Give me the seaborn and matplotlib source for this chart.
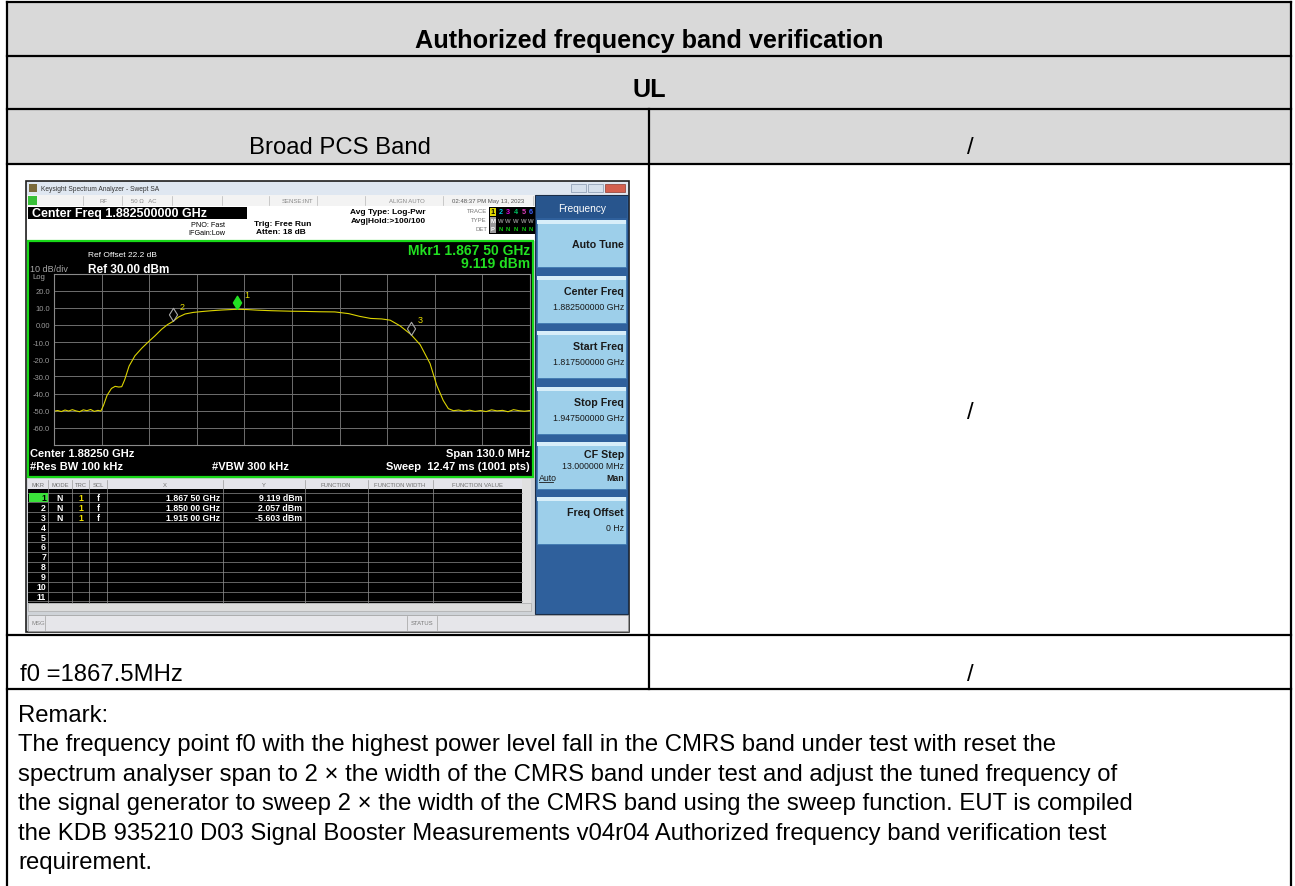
import matplotlib
matplotlib.use("Agg")
import matplotlib.pyplot as plt
from matplotlib.patches import Rectangle
import numpy as np
import pandas as pd
import seaborn as sns

# ---- text of the report table ----
title = "Authorized frequency band verification"
direction = "UL"
band_name = "Broad PCS Band"
f0_text = "f0 =1867.5MHz"
remark_lines = [
    "Remark:",
    "The frequency point f0 with the highest power level fall in the CMRS band under test with reset the",
    "spectrum analyser span to 2 \u00d7 the width of the CMRS band under test and adjust the tuned frequency of",
    "the signal generator to sweep 2 \u00d7 the width of the CMRS band using the sweep function. EUT is compiled",
    "the KDB 935210 D03 Signal Booster Measurements v04r04 Authorized frequency band verification test",
    "requirement.",
]

# ---- trace (GHz / dBm) ----
trace_freq = [1.8175, 1.8185, 1.8195, 1.8205, 1.8215, 1.8225, 1.8235, 1.8245, 1.8255, 1.8265,
              1.8275, 1.8285, 1.8295, 1.8303, 1.8310, 1.8320, 1.8332, 1.8342, 1.8352, 1.8360,
              1.8368, 1.8380, 1.8396, 1.8415, 1.8433, 1.8450, 1.8469, 1.8485, 1.8500, 1.8515,
              1.8533, 1.8555, 1.8578, 1.8605, 1.8633, 1.8660, 1.8675, 1.8700, 1.8733, 1.8770,
              1.8824, 1.8860, 1.8900, 1.8942, 1.8980, 1.9010, 1.9040, 1.9070, 1.9093, 1.9120,
              1.9150, 1.9175, 1.9202, 1.9220, 1.9238, 1.9252, 1.9266, 1.9280, 1.9295, 1.9310,
              1.9325, 1.9340, 1.9355, 1.9370, 1.9385, 1.9400, 1.9415, 1.9430, 1.9445, 1.9460,
              1.9475]
trace_dbm = [-50.3, -49.9, -50.5, -49.6, -50.2, -49.4, -50.1, -50.6, -49.5, -50.0,
             -49.3, -50.4, -49.8, -50.2, -47.0, -41.0, -37.0, -35.8, -36.2, -36.0,
             -32.0, -24.0, -18.0, -13.5, -9.8, -6.5, -2.5, 0.2, 2.057, 4.6,
             6.4, 7.3, 7.8, 8.3, 8.7, 9.0, 9.119, 9.0, 8.6, 8.3,
             8.0, 7.9, 7.7, 7.6, 6.6, 5.0, 3.8, 3.5, 2.8, -0.5,
             -5.603, -11.5, -22.5, -35.0, -44.0, -48.8, -50.0, -49.6, -50.3, -49.7,
             -50.4, -49.9, -50.5, -49.5, -50.1, -49.8, -50.6, -49.4, -50.0, -50.3,
             -49.9]

mkr_no = ["1", "2", "3"]
mkr_freq = [1.8675, 1.8500, 1.9150]
mkr_dbm = [9.119, 2.057, -5.603]
mkr_x_text = ["1.867 50 GHz", "1.850 00 GHz", "1.915 00 GHz"]
mkr_y_text = ["9.119 dBm", "2.057 dBm", "-5.603 dBm"]

ytick_vals = [-70, -60, -50, -40, -30, -20, -10, 0, 10, 20, 30]
ytick_labels = ["", "-60.0", "-50.0", "-40.0", "-30.0", "-20.0", "-10.0", "0.00", "10.0", "20.0", ""]

softkey_titles = ["Auto Tune", "Center Freq", "Start Freq", "Stop Freq", "CF Step", "Freq Offset"]
softkey_values = ["", "1.882500000 GHz", "1.817500000 GHz", "1.947500000 GHz", "13.000000 MHz", "0 Hz"]

sns.set_theme(style="white")
plt.rcParams["font.family"] = ["Liberation Sans", "DejaVu Sans"]

W, H = 1295, 887
fig = plt.figure(figsize=(W / 100, H / 100), dpi=100)
pg = fig.add_axes([0, 0, 1, 1])
pg.set_xlim(0, W)
pg.set_ylim(H, 0)
pg.axis("off")


def box(x, y, w, h, fc, ec="none", lw=0, z=1):
    pg.add_patch(Rectangle((x, y), w, h, facecolor=fc, edgecolor=ec, linewidth=lw, zorder=z))


def txt(x, y, s, size, color="black", ha="left", weight="normal", z=5):
    pg.text(x, y, s, fontsize=size, color=color, ha=ha, va="center", fontweight=weight, zorder=z)


def line(xs, ys, color="black", lw=1.6, z=4):
    pg.plot(xs, ys, color=color, lw=lw, zorder=z, solid_capstyle="projecting")


# ---- report table ----
box(7, 3, 1284, 162, "#d9d9d9", z=0)
for yy in [3, 57, 110, 165, 636, 690]:
    line([7, 1291], [yy, yy])
line([7, 7], [3, 887])
line([1291, 1291], [3, 887])
line([649, 649], [110, 690])

fs = 17.2
txt(649, 41, title, 18.2, ha="center", weight="bold")
txt(649, 90, direction, 18.2, ha="center", weight="bold")
txt(340, 148, band_name, fs, ha="center")
txt(970, 148, "/", fs, ha="center")
txt(970, 413, "/", fs, ha="center")
txt(20, 675, f0_text, fs)
txt(970, 675, "/", fs, ha="center")
for i, s in enumerate(remark_lines):
    txt(18, 716 + 29.5 * i, s, fs)

# ---- analyser screenshot chrome ----
box(26, 182, 603, 451, "#cfd3d8", ec="#202020", lw=1.2, z=1)
box(27, 183, 601, 13, "#dfe7f1", z=2)
box(29, 185, 8, 8, "#7a6a3a", z=3)
txt(41, 189.5, "Keysight Spectrum Analyzer - Swept SA", 4.8, color="#333333")
box(571, 185, 15, 8, "#d5dfeb", ec="#8797ad", lw=0.5, z=3)
box(588, 185, 15, 8, "#d5dfeb", ec="#8797ad", lw=0.5, z=3)
box(605, 185, 20, 8, "#d4604f", ec="#8a3a30", lw=0.5, z=3)

box(27, 196, 509, 11, "#f3f3f3", z=2)
box(28, 197, 9, 9, "#38c038", z=3)
for xx in [83, 122, 172, 222, 269, 317, 365, 443, 533]:
    line([xx, xx], [197, 206], color="#b8b8b8", lw=0.5, z=3)
txt(103, 201.5, "RF", 4.3, color="#888888", ha="center")
txt(131, 201.5, "50 \u03a9   AC", 4.3, color="#888888")
txt(298, 201.5, "SENSE:INT", 4.3, color="#888888", ha="center")
txt(407, 201.5, "ALIGN AUTO", 4.3, color="#888888", ha="center")
txt(488, 201.5, "02:48:37 PM May 13, 2023", 4.3, color="#555555", ha="center")

box(27, 207, 509, 35, "white", z=2)
box(28, 208, 219, 12, "black", z=3)
txt(32, 214, "Center Freq 1.882500000 GHz", 9, color="white", weight="bold")
txt(225, 226, "PNO: Fast", 5.2, ha="right")
txt(225, 234, "IFGain:Low", 5.2, ha="right")
txt(254, 225, "Trig: Free Run", 6, weight="bold")
txt(256, 233, "Atten: 18 dB", 6, weight="bold")
txt(388, 213, "Avg Type: Log-Pwr", 6, ha="center", weight="bold")
txt(388, 222, "Avg|Hold:>100/100", 6, ha="center", weight="bold")
txt(487, 212, "TRACE", 4.3, color="#777777", ha="right")
txt(487, 221, "TYPE", 4.3, color="#777777", ha="right")
txt(487, 230, "DET", 4.3, color="#777777", ha="right")
box(489, 208, 46, 27, "black", z=3)
box(490, 209, 6, 8, "#e0d800", z=4)
box(490, 218, 6, 8, "#9a9a9a", z=4)
box(490, 226, 6, 8, "#9a9a9a", z=4)
trace_cols = ["black", "#00c8e0", "#e000e0", "#00c060", "#e040c0", "#4060ff"]
for k, c in enumerate(trace_cols):
    txt(493 + 7.6 * k, 213, str(k + 1), 5.2, color=c, ha="center", weight="bold")
    txt(493 + 7.6 * k, 222, "M" if k == 0 else "W", 4.3, color="white" if k == 0 else "#8a8a8a",
        ha="center", weight="bold")
    txt(493 + 7.6 * k, 230, "P" if k == 0 else "N", 4.3, color="white" if k == 0 else "#10d010",
        ha="center", weight="bold")

# graticule panel
box(28, 242, 505, 236, "black", ec="#18d818", lw=1.6, z=2)
txt(88, 256, "Ref Offset 22.2 dB", 6, color="white")
txt(30, 270, "10 dB/div", 6.5, color="#a8a8a8")
txt(88, 270, "Ref 30.00 dBm", 8.5, color="white", weight="bold")
txt(32, 277.5, "Log", 5.5, color="#a8a8a8")
txt(530, 251, "Mkr1 1.867 50 GHz", 10, color="#22e022", ha="right", weight="bold")
txt(530, 264, "9.119 dBm", 10, color="#22e022", ha="right", weight="bold")
txt(30, 454, "Center 1.88250 GHz", 8, color="white", weight="bold")
txt(30, 467, "#Res BW 100 kHz", 8, color="white", weight="bold")
txt(212, 467, "#VBW 300 kHz", 8, color="white", weight="bold")
txt(530, 454, "Span 130.0 MHz", 8, color="white", ha="right", weight="bold")
txt(530, 467, "Sweep  12.47 ms (1001 pts)", 8, color="white", ha="right", weight="bold")

# marker table
box(28, 480, 495, 10, "#e4e4ea", z=2)
box(28, 490, 494, 114, "black", z=2)
box(522, 480, 9, 124, "#e0e0e0", z=2)
box(28, 604, 503, 8, "#dcdcdc", ec="#a0a0a0", lw=0.4, z=2)
col_edges = [48, 72, 89, 107, 223, 305, 368, 433]
for xx in col_edges:
    line([xx, xx], [481, 604], color="#9a9a9a", lw=0.5, z=3)
for k in range(12):
    line([28, 522], [493.5 + 9.9 * k, 493.5 + 9.9 * k], color="#8a8a8a", lw=0.5, z=3)
head_x = [38, 60, 80.5, 98, 165, 264, 336, 400, 477]
head_s = ["MKR", "MODE", "TRC", "SCL", "X", "Y", "FUNCTION", "FUNCTION WIDTH", "FUNCTION VALUE"]
for hx, hs in zip(head_x, head_s):
    txt(hx, 485.5, hs, 4.2, color="#707070", ha="center")
box(29, 494, 18.5, 9, "#3ae23a", z=3)
for k in range(11):
    yy = 498.5 + 9.9 * k
    txt(46, yy, str(k + 1), 6.3, color="black" if k == 0 else "white", ha="right", weight="bold")
for k in range(len(mkr_no)):
    yy = 498.5 + 9.9 * k
    txt(60, yy, "N", 6.3, color="white", ha="center", weight="bold")
    txt(80.5, yy, "1", 6.3, color="#f0e000", ha="center", weight="bold")
    txt(98, yy, "f", 6.3, color="white", ha="center", weight="bold")
    txt(220, yy, mkr_x_text[k], 6.3, color="white", ha="right", weight="bold")
    txt(302, yy, mkr_y_text[k], 6.3, color="white", ha="right", weight="bold")

# status bar
box(28, 616, 600, 16, "#e6e6ea", ec="#9a9a9a", lw=0.5, z=2)
line([45, 45], [617, 631], color="#a0a0a0", lw=0.5)
line([407, 407], [617, 631], color="#a0a0a0", lw=0.5)
line([437, 437], [617, 631], color="#a0a0a0", lw=0.5)
txt(31, 624, "MSG", 4.3, color="#888888")
txt(422, 624, "STATUS", 4.3, color="#777777", ha="center")

# softkey panel
box(535, 196, 93, 419, "#2f609c", ec="#1c2e48", lw=0.8, z=2)
box(536, 197, 91, 22, "#28558d", z=3)
txt(582, 209, "Frequency", 7.3, color="white", ha="center")
key_tops = [221, 277, 332, 388, 443, 498]
for top, ttl, val in zip(key_tops, softkey_titles, softkey_values):
    box(537, top, 89, 47, "#9dcfea", ec="#3f78b0", lw=0.6, z=3)
    box(537, top, 89, 4, "#d8eef9", z=4)
    if val == "":
        txt(624, top + 24, ttl, 7.7, color="#1a1a1a", ha="right", weight="bold")
    elif ttl == "CF Step":
        txt(624, top + 12, ttl, 7.7, color="#1a1a1a", ha="right", weight="bold")
        txt(624, top + 24, val, 6.3, color="#1a1a1a", ha="right")
    else:
        txt(624, top + 15, ttl, 7.7, color="#1a1a1a", ha="right", weight="bold")
        txt(624, top + 31, val, 6.3, color="#1a1a1a", ha="right")
txt(539, 479, "Auto", 6.3, color="#1a1a1a")
line([539, 553], [483, 483], color="#1a1a1a", lw=0.6, z=5)
txt(624, 479, "Man", 6.3, color="#1a1a1a", ha="right", weight="bold")

# ---- spectrum trace ----
ax = fig.add_axes([54 / W, 1 - 446 / H, 476 / W, 171.5 / H])
ax.set_facecolor("black")
trace_df = pd.DataFrame({"freq": trace_freq, "dbm": trace_dbm})
sns.lineplot(data=trace_df, x="freq", y="dbm", ax=ax, color="#dcd400", lw=0.8)
ax.set_xlim(1.8175, 1.9475)
ax.set_ylim(-70, 30)
ax.set_xticks(np.linspace(1.8175, 1.9475, 11))
ax.set_xticklabels([])
ax.set_yticks(ytick_vals)
ax.set_yticklabels(ytick_labels)
ax.tick_params(axis="both", length=0, pad=3, labelsize=5.5, labelcolor="#9a9a9a")
ax.grid(True, color="#6e6e6e", lw=0.7)
for sp in ax.spines.values():
    sp.set_color("#8a8a8a")
    sp.set_linewidth(0.8)
ax.set_xlabel("")
ax.set_ylabel("")

tip = [(0, 0), (0.62, 1), (0, 2), (-0.62, 1), (0, 0)]
ax.plot(mkr_freq[0], mkr_dbm[0], marker=tip, ms=19, mfc="#22e022", mec="#22e022", ls="none", zorder=5)
ax.plot(mkr_freq[1:], mkr_dbm[1:], marker=tip, ms=19, mfc="none", mec="#a8a8a8", mew=0.8,
        ls="none", zorder=5)
for n, fx, fy in zip(mkr_no, mkr_freq, mkr_dbm):
    ax.annotate(n, (fx, fy), xytext=(5, 11), textcoords="offset points", fontsize=6.5,
                color="#e8e000", va="center")

fig.savefig("out.png", dpi=100)
